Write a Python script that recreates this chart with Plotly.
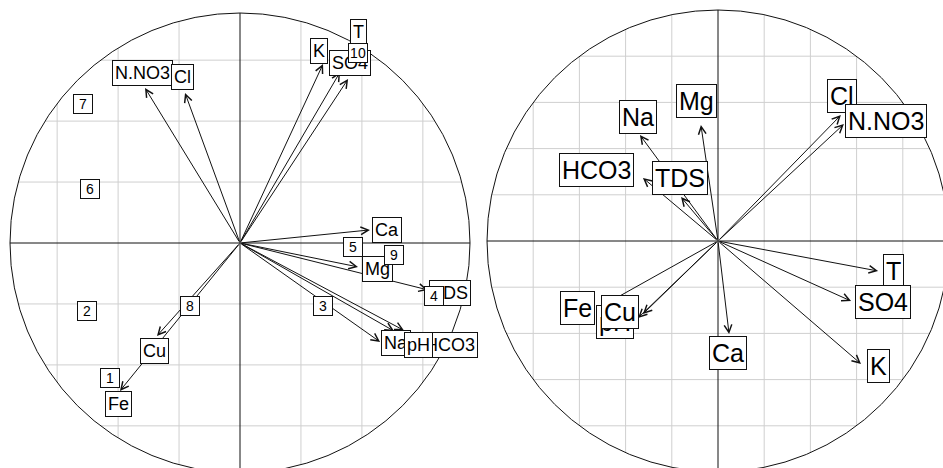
import numpy as np
import plotly.graph_objects as go

# left panel: variables (arrow tips + label spots) and numbered sites
left_vars = ["N.NO3", "Cl", "K", "SO4", "T", "Ca", "Mg", "TDS", "Na", "HCO3", "pH", "Cu", "Fe"]
left_tip_x = [-0.413, -0.239, 0.361, 0.470, 0.435, 0.565, 0.513, 0.817, 0.609, 0.713, 0.670, -0.361, -0.522]
left_tip_y = [0.674, 0.652, 0.778, 0.713, 0.743, 0.057, -0.104, -0.204, -0.430, -0.380, -0.383, -0.404, -0.643]
left_lab_x = [-0.426, -0.248, 0.343, 0.478, 0.517, 0.639, 0.596, 0.913, 0.678, 0.913, 0.774, -0.370, -0.530]
left_lab_y = [0.739, 0.722, 0.835, 0.783, 0.917, 0.057, -0.113, -0.217, -0.435, -0.443, -0.443, -0.470, -0.700]

sites = ["1", "2", "3", "4", "5", "6", "7", "8", "9", "10"]
site_x = [-0.565, -0.665, 0.361, 0.843, 0.491, -0.652, -0.683, -0.217, 0.670, 0.513]
site_y = [-0.587, -0.296, -0.274, -0.230, -0.017, 0.235, 0.604, -0.274, -0.052, 0.826]

# right panel
right_vars = ["Mg", "Na", "HCO3", "TDS", "Cl", "N.NO3", "T", "SO4", "K", "Ca", "pH", "Fe", "Cu"]
right_tip_x = [-0.074, -0.338, -0.325, -0.160, 0.532, 0.545, 0.693, 0.576, 0.619, 0.048, -0.346, -0.511, -0.325]
right_tip_y = [0.502, 0.459, 0.273, 0.190, 0.545, 0.506, -0.130, -0.260, -0.532, -0.403, -0.333, -0.286, -0.316]
right_lab_x = [-0.091, -0.346, -0.524, -0.165, 0.537, 0.727, 0.758, 0.714, 0.693, 0.043, -0.446, -0.610, -0.424]
right_lab_y = [0.606, 0.537, 0.307, 0.273, 0.628, 0.519, -0.130, -0.264, -0.541, -0.485, -0.351, -0.290, -0.307]

left_grid = [-0.795, -0.53, -0.265, 0.265, 0.53, 0.795]
right_grid = [-0.8, -0.6, -0.4, -0.2, 0.2, 0.4, 0.6, 0.8]

FONT = "Arial, Liberation Sans, sans-serif"
INK = "#111111"

fig = go.Figure()
fig.add_trace(go.Scatter(x=left_tip_x, y=left_tip_y, mode="markers", marker=dict(opacity=0),
                         hoverinfo="skip", showlegend=False, xaxis="x", yaxis="y"))
fig.add_trace(go.Scatter(x=right_tip_x, y=right_tip_y, mode="markers", marker=dict(opacity=0),
                         hoverinfo="skip", showlegend=False, xaxis="x2", yaxis="y2"))

shapes = []
annotations = []


def corcircle(xr, yr, grid):
    # grid clipped to the unit circle
    for g in grid:
        h = np.sqrt(1 - g * g)
        shapes.append(dict(type="line", xref=xr, yref=yr, x0=g, x1=g, y0=-h, y1=h,
                           line=dict(color="#cfcfcf", width=1), layer="below"))
        shapes.append(dict(type="line", xref=xr, yref=yr, x0=-h, x1=h, y0=g, y1=g,
                           line=dict(color="#cfcfcf", width=1), layer="below"))
    shapes.append(dict(type="line", xref=xr, yref=yr, x0=-1, x1=1, y0=0, y1=0,
                       line=dict(color=INK, width=1), layer="below"))
    shapes.append(dict(type="line", xref=xr, yref=yr, x0=0, x1=0, y0=-1, y1=1,
                       line=dict(color=INK, width=1), layer="below"))
    shapes.append(dict(type="circle", xref=xr, yref=yr, x0=-1, x1=1, y0=-1, y1=1,
                       line=dict(color=INK, width=1), layer="below"))


def arrows(xr, yr, tx, ty):
    for x, y in zip(tx, ty):
        annotations.append(dict(xref=xr, yref=yr, axref=xr, ayref=yr, x=x, y=y, ax=0, ay=0,
                                text="", showarrow=True, arrowhead=5, arrowsize=1.5,
                                arrowwidth=1, arrowcolor=INK, standoff=0, startstandoff=0))


def labels(xr, yr, names, lx, ly, size, pad, width=None):
    for n, x, y in zip(names, lx, ly):
        annotations.append(dict(xref=xr, yref=yr, x=x, y=y, text=n, showarrow=False,
                                font=dict(family=FONT, size=size, color="black"), width=width,
                                bgcolor="white", bordercolor=INK, borderwidth=1, borderpad=pad))


corcircle("x", "y", left_grid)
corcircle("x2", "y2", right_grid)
arrows("x", "y", left_tip_x, left_tip_y)
arrows("x2", "y2", right_tip_x, right_tip_y)
labels("x", "y", left_vars, left_lab_x, left_lab_y, 18, 2)
labels("x", "y", sites, site_x, site_y, 14, 1, width=16)
labels("x2", "y2", right_vars, right_lab_x, right_lab_y, 25, 2)

split = 476 / 943
fig.update_layout(
    width=943, height=468, autosize=False,
    margin=dict(l=0, r=0, t=0, b=0),
    paper_bgcolor="white", plot_bgcolor="white",
    showlegend=False,
    xaxis=dict(domain=[0, split], range=[-240 / 230, 236 / 230], visible=False, anchor="y"),
    yaxis=dict(domain=[0, 1], range=[-225 / 230, 243 / 230], visible=False, anchor="x"),
    xaxis2=dict(domain=[split, 1], range=[-242 / 231, 225 / 231], visible=False, anchor="y2"),
    yaxis2=dict(domain=[0, 1], range=[-227 / 231, 241 / 231], visible=False, anchor="x2"),
    shapes=shapes,
    annotations=annotations,
)

fig.write_html("out.html", config={"displayModeBar": False},
               post_script="document.body.style.margin='0';")
